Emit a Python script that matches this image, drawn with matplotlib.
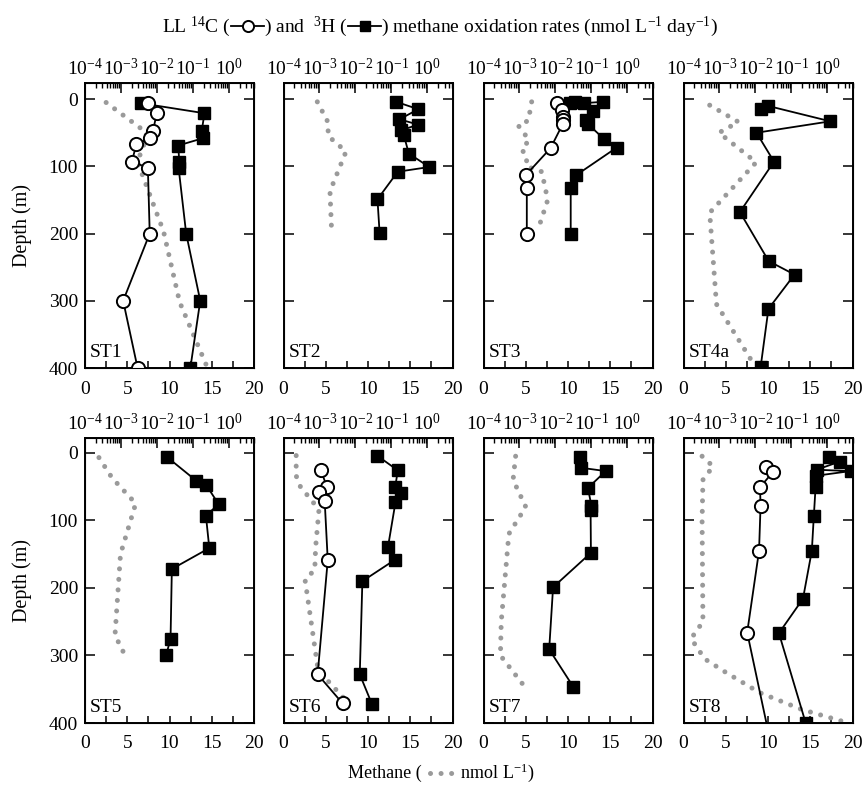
import matplotlib.pyplot as plt
import matplotlib.ticker as mticker
from matplotlib.lines import Line2D
from matplotlib.offsetbox import AnchoredOffsetbox, DrawingArea, HPacker, TextArea

plt.rcParams['font.family'] = 'Liberation Serif'
plt.rcParams['mathtext.fontset'] = 'custom'
plt.rcParams['mathtext.rm'] = 'Liberation Serif'
plt.rcParams['mathtext.it'] = 'Liberation Serif:italic'
plt.rcParams['mathtext.bf'] = 'Liberation Serif:bold'
plt.rcParams['font.size'] = 14
plt.rcParams['axes.unicode_minus'] = False

# ---- data ----
# methane (nmol L-1) vs depth (m), vertices of the dotted profile
st1_ch4_z = [5, 50, 64, 93, 197, 302, 400]
st1_ch4 = [2.5, 7.3, 7.1, 6.2, 9.3, 11.2, 14.5]
st2_ch4_z = [4, 34, 55, 78, 137, 198]
st2_ch4 = [4.0, 5.25, 5.3, 7.4, 5.5, 5.7]
st3_ch4_z = [4, 32, 39, 61, 75, 84, 100, 108, 150, 196]
st3_ch4 = [5.7, 5.3, 4.1, 5.4, 4.5, 5.1, 5.1, 6.9, 7.6, 6.4]
st4a_ch4_z = [9, 34, 50, 94, 169, 305, 398]
st4a_ch4 = [3.1, 6.5, 4.2, 8.6, 3.1, 3.9, 8.5]
st5_ch4_z = [7, 37, 75, 150, 270, 299]
st5_ch4 = [1.65, 3.2, 6.0, 4.2, 3.55, 4.7]
st6_ch4_z = [4, 34, 50, 84, 140, 173, 188, 322, 364]
st6_ch4 = [1.5, 1.5, 2.0, 4.2, 3.8, 3.7, 2.55, 4.1, 7.2]
st7_ch4_z = [5, 40, 80, 120, 250, 300, 345]
st7_ch4 = [3.8, 3.5, 5.0, 3.0, 2.1, 2.0, 4.8]
st8_ch4_z = [5, 20, 40, 100, 250, 275, 305, 325, 355, 380, 400]
st8_ch4 = [2.2, 3.5, 2.3, 2.2, 2.3, 0.9, 2.5, 5.0, 9.0, 14.0, 19.5]

# 3H oxidation rates (nmol L-1 day-1)
st1_h3_z = [6, 21, 48, 58, 69, 94, 102, 200, 300, 400]
st1_h3 = [0.0035, 0.21, 0.175, 0.195, 0.039, 0.042, 0.040, 0.065, 0.16, 0.085]
st2_h3_z = [4, 15, 30, 38, 46, 53, 81, 101, 108, 149, 199]
st2_h3 = [0.136, 0.56, 0.168, 0.56, 0.19, 0.22, 0.305, 1.13, 0.15, 0.041, 0.047]
st3_h3_z = [6, 5, 6, 4, 17, 31, 37, 60, 72, 113, 132, 200]
st3_h3 = [0.0249, 0.034, 0.061, 0.208, 0.11, 0.069, 0.080, 0.231, 0.507, 0.038, 0.0266, 0.0266]
st4a_h3_z = [15, 10, 33, 50, 93, 168, 241, 261, 312, 398]
st4a_h3 = [0.014, 0.022, 1.21, 0.0107, 0.0328, 0.0037, 0.0234, 0.122, 0.023, 0.014]
st5_h3_z = [6, 41, 47, 76, 93, 141, 172, 275, 300]
st5_h3 = [0.0189, 0.122, 0.23, 0.52, 0.23, 0.286, 0.026, 0.0239, 0.018]
st6_h3_z = [4, 26, 50, 59, 73, 140, 158, 190, 328, 372]
st6_h3 = [0.040, 0.151, 0.128, 0.187, 0.130, 0.080, 0.128, 0.0156, 0.0132, 0.0288]
st7_h3_z = [6, 22, 27, 52, 78, 85, 148, 199, 291, 346]
st7_h3 = [0.048, 0.050, 0.25, 0.08, 0.10, 0.095, 0.097, 0.0086, 0.0067, 0.031]
st8_h3_z = [6, 13, 25, 27, 34, 51, 94, 145, 216, 267, 400]
st8_h3 = [1.09, 2.2, 0.5, 4.4, 0.47, 0.47, 0.42, 0.37, 0.21, 0.045, 0.25]

# LL 14C oxidation rates (nmol L-1 day-1)
st1_c14_z = [6, 20, 48, 58, 67, 93, 102, 200, 300, 400]
st1_c14 = [0.0056, 0.010, 0.0077, 0.0066, 0.0027, 0.0020, 0.0056, 0.0063, 0.00115, 0.0029]
st3_c14_z = [6, 16, 26, 31, 37, 73, 113, 132, 200]
st3_c14 = [0.011, 0.0153, 0.016, 0.016, 0.016, 0.0073, 0.0015, 0.0016, 0.0016]
st6_c14_z = [26, 50, 58, 72, 159, 328, 371]
st6_c14 = [0.0011, 0.0016, 0.00098, 0.0014, 0.0017, 0.00089, 0.0044]
st8_c14_z = [21, 28, 51, 78, 145, 266, 450]
st8_c14 = [0.0195, 0.031, 0.0134, 0.0139, 0.0126, 0.0059, 0.032]

panels = [
    ('ST1', st1_ch4_z, st1_ch4, st1_h3_z, st1_h3, st1_c14_z, st1_c14),
    ('ST2', st2_ch4_z, st2_ch4, st2_h3_z, st2_h3, None, None),
    ('ST3', st3_ch4_z, st3_ch4, st3_h3_z, st3_h3, st3_c14_z, st3_c14),
    ('ST4a', st4a_ch4_z, st4a_ch4, st4a_h3_z, st4a_h3, None, None),
    ('ST5', st5_ch4_z, st5_ch4, st5_h3_z, st5_h3, None, None),
    ('ST6', st6_ch4_z, st6_ch4, st6_h3_z, st6_h3, st6_c14_z, st6_c14),
    ('ST7', st7_ch4_z, st7_ch4, st7_h3_z, st7_h3, None, None),
    ('ST8', st8_ch4_z, st8_ch4, st8_h3_z, st8_h3, st8_c14_z, st8_c14),
]

GRAY = '#9a9a9a'
dotted = dict(color=GRAY, lw=3.6, linestyle=(0, (0.01, 2.1)), dash_capstyle='round')
sq = dict(color='k', lw=1.3, marker='s', ms=8.5, mfc='k', mec='k')
circ = dict(color='k', lw=1.3, marker='o', ms=9.5, mfc='white', mec='k', mew=1.4)

W, H = 865, 789
fig = plt.figure(figsize=(W / 100, H / 100), dpi=100)

lefts = [85, 283.5, 483.5, 683.5]
pw = 169
rows = [(83, 368, -24), (438, 723, -22)]

for i, (name, cz, cv, hz, hv, kz, kv) in enumerate(panels):
    r, c = divmod(i, 4)
    top, bot, ytop = rows[r]
    ax = fig.add_axes([lefts[c] / W, 1 - bot / H, pw / W, (bot - top) / H])
    ax.plot(cv, cz, **dotted)
    ax.set_xlim(0, 20)
    ax.set_ylim(400, ytop)
    ax.xaxis.set_major_locator(mticker.MultipleLocator(5))
    ax.xaxis.set_minor_locator(mticker.MultipleLocator(2.5))
    ax.yaxis.set_major_locator(mticker.MultipleLocator(100))
    ax.tick_params(axis='x', which='both', direction='in', length=5, width=1.1, pad=9)
    ax.tick_params(axis='y', direction='in', length=7, width=1.1, right=True, pad=5)
    if c == 0:
        fig.text(22 / W, 1 - (top + bot) / 2 / H, 'Depth (m)', rotation=90,
                 ha='center', va='center', fontsize=14.5)
    else:
        ax.tick_params(axis='y', labelleft=False)
    for s in ax.spines.values():
        s.set_linewidth(1.4)
    ax.text(0.03, 0.025, name, transform=ax.transAxes, ha='left', va='bottom')

    ax2 = ax.twiny()
    ax2.set_xscale('log')
    ax2.set_xlim(1e-4, 5)
    ax2.xaxis.set_major_locator(mticker.LogLocator(base=10, numticks=10))
    ax2.xaxis.set_minor_locator(mticker.LogLocator(base=10, subs=range(2, 10), numticks=20))
    ax2.xaxis.set_minor_formatter(mticker.NullFormatter())
    ax2.tick_params(axis='x', which='major', direction='in', length=7, width=1.1, pad=3)
    ax2.tick_params(axis='x', which='minor', direction='in', length=3.5, width=1.0)
    ax2.plot(hv, hz, **sq)
    if kz is not None:
        ax2.plot(kv, kz, **circ)
    ax2.set_ylim(400, ytop)

# title with inline symbols
def sym(kind):
    da = DrawingArea(24, 10, 0, 0)
    da.add_artist(Line2D([0, 24], [4.5, 4.5], color='k', lw=1.3))
    if kind == 'o':
        da.add_artist(Line2D([12], [4.5], marker='o', ms=8, mfc='white', mec='k', mew=1.4))
    else:
        da.add_artist(Line2D([12], [4.5], marker='s', ms=7, mfc='k', mec='k'))
    return da

title = HPacker(children=[
    TextArea('LL $^{14}$C ('), sym('o'),
    TextArea(') and  $^{3}$H ('), sym('s'),
    TextArea(') methane oxidation rates (nmol L$^{-1}$ day$^{-1}$)'),
], align='baseline', pad=0, sep=0)
fig.add_artist(AnchoredOffsetbox(loc='center', child=title, frameon=False, pad=0, borderpad=0,
                                 bbox_to_anchor=(0.509, 1 - 27 / H), bbox_transform=fig.transFigure))

small = dict(fontsize=13)
dots = DrawingArea(22, 10, 0, 0)
dots.add_artist(Line2D([3, 19], [4, 4], **dotted))
xlab = HPacker(children=[TextArea('Methane ( ', textprops=small), dots,
                         TextArea(' nmol L$^{-1}$)', textprops=small)],
               align='baseline', pad=0, sep=0)
fig.add_artist(AnchoredOffsetbox(loc='center', child=xlab, frameon=False, pad=0, borderpad=0,
                                 bbox_to_anchor=(0.51, 1 - 773 / H), bbox_transform=fig.transFigure))

fig.savefig('out.png', dpi=100)
